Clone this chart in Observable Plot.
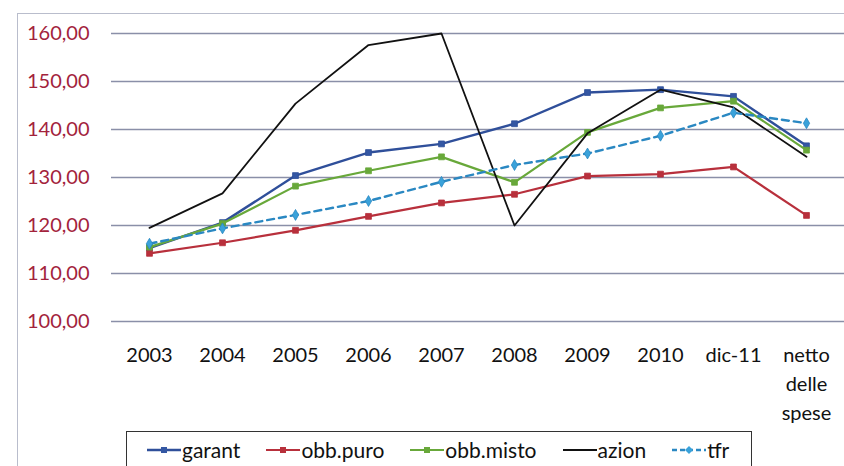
<!DOCTYPE html>
<html>
<head>
<meta charset="utf-8">
<script src="https://cdn.jsdelivr.net/npm/d3@7"></script>
<script src="https://cdn.jsdelivr.net/npm/@observablehq/plot@0.6"></script>
<style>
  html, body { margin: 0; padding: 0; background: #fff; }
  #wrap { position: relative; width: 844px; height: 466px; overflow: hidden; background: #fff; font-family: Lato, "Open Sans", sans-serif; }
  #chart > svg { position: absolute; left: 0; top: 0; }
  #frame { position: absolute; left: 17px; top: 13px; width: 840px; height: 470px; border-top: 1.5px solid #b9bdcc; border-left: 1.5px solid #b9bdcc; box-sizing: border-box; }
  #legend { position: absolute; left: 126px; top: 431px; width: 626px; height: 50px; border-top: 1.5px solid #333; border-left: 1.5px solid #333; border-right: 1.5px solid #333; box-sizing: border-box; display: flex; align-items: flex-start; padding-top: 5px; padding-left: 20px; font-size: 21px; color: #111; }
  .item { display: flex; align-items: center; margin-right: 26px; }
  .item svg { display: block; margin-right: 1px; }
</style>
</head>
<body>
<div id="wrap">
  <div id="frame"></div>
  <div id="chart"></div>
  <div id="legend"></div>
</div>
<script>
const categories = ["2003","2004","2005","2006","2007","2008","2009","2010","dic-11","netto\ndelle\nspese"];
const garant   = [115.3,120.6,130.4,135.2,137.0,141.2,147.7,148.3,146.9,136.6];
const obbPuro  = [114.2,116.4,119.0,121.9,124.7,126.5,130.3,130.7,132.2,122.1];
const obbMisto = [115.5,120.4,128.2,131.4,134.3,129.0,139.4,144.5,145.9,135.7];
const azion    = [119.5,126.7,145.4,157.6,160.0,120.0,139.2,148.3,144.6,134.3];
const tfr      = [116.2,119.4,122.2,125.1,129.1,132.6,135.0,138.7,143.5,141.3];
const yTicks   = [100,110,120,130,140,150,160];

const series = [
  {name: "garant",    values: garant,   color: "#2f4f9a", marker: "#3457a3", symbol: "square", width: 2.4, dash: null},
  {name: "obb.puro",  values: obbPuro,  color: "#b8303c", marker: "#b8303c", symbol: "square", width: 2.2, dash: null},
  {name: "obb.misto", values: obbMisto, color: "#68a83a", marker: "#68a83a", symbol: "square", width: 2.2, dash: null},
  {name: "azion",     values: azion,    color: "#111111", marker: null,      symbol: null,     width: 1.8, dash: null},
  {name: "tfr",       values: tfr,      color: "#2a88c2", marker: "#3aa2da", symbol: "diamond",width: 2.4, dash: "7,5"}
];

const rows = series.flatMap(s => s.values.map((v, i) => ({series: s.name, cat: categories[i], value: v})));

const marks = [
  Plot.gridY(yTicks, {stroke: "#8a8fa8", strokeOpacity: 1, strokeWidth: 1.5}),
  Plot.axisY(yTicks, {tickSize: 0, tickPadding: 22, fill: "#a3233c", tickFormat: d => d.toFixed(2).replace(".", ","), fontSize: 20, label: null}),
  Plot.axisX({tickSize: 0, tickPadding: 20, fill: "#111", fontSize: 20, lineHeight: 1.45, label: null})
];
for (const s of series) {
  const data = rows.filter(r => r.series === s.name);
  marks.push(Plot.line(data, {x: "cat", y: "value", stroke: s.color, strokeWidth: s.width, strokeDasharray: s.dash || undefined}));
  if (s.symbol) {
    marks.push(Plot.dot(data, {x: "cat", y: "value", symbol: s.symbol, r: 3.3, fill: s.marker, stroke: s.color, strokeWidth: 0.8}));
  }
}

const chart = Plot.plot({
  width: 844,
  height: 466,
  marginLeft: 111,
  marginRight: 0,
  marginTop: 33,
  marginBottom: 145,
  style: {fontFamily: "Lato, 'Open Sans', sans-serif", fontSize: "20px", background: "transparent", overflow: "visible"},
  x: {type: "point", domain: categories, padding: 0.5, axis: null, label: null},
  y: {domain: [100, 160], axis: null, label: null},
  marks
});
document.getElementById("chart").appendChild(chart);

const legend = document.getElementById("legend");
for (const s of series) {
  const item = document.createElement("div");
  item.className = "item";
  const w = 34;
  let sw = `<svg width="${w}" height="12" viewBox="0 0 ${w} 12"><line x1="0" y1="6" x2="${w}" y2="6" stroke="${s.color}" stroke-width="${s.width}" ${s.dash ? `stroke-dasharray="5,3"` : ""}/>`;
  if (s.symbol === "square") sw += `<rect x="${w/2-3}" y="3" width="6" height="6" fill="${s.marker}"/>`;
  if (s.symbol === "diamond") sw += `<path d="M${w/2},2 L${w/2+4},6 L${w/2},10 L${w/2-4},6 Z" fill="${s.marker}"/>`;
  sw += `</svg>`;
  item.innerHTML = sw + `<span>${s.name}</span>`;
  legend.appendChild(item);
}
</script>
</body>
</html>
